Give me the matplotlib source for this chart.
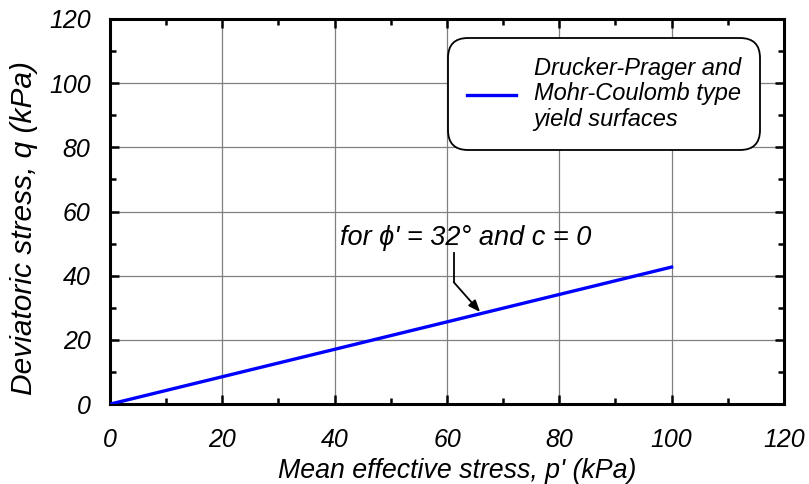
import matplotlib.pyplot as plt
from matplotlib.ticker import MultipleLocator

plt.rcParams['font.family'] = ['Liberation Sans', 'DejaVu Sans']
plt.rcParams['font.style'] = 'italic'

# yield surface line
p_vals = [0, 100]
q_vals = [0, 42.7]

x_ticks = [0, 20, 40, 60, 80, 100, 120]
y_ticks = [0, 20, 40, 60, 80, 100, 120]

fig = plt.figure(figsize=(8.09, 4.84), dpi=100)
ax = fig.add_axes([0.136, 0.165, 0.833, 0.796])

ax.plot(p_vals, q_vals, color="#0000ff", lw=2.4,
        label="Drucker-Prager and\nMohr-Coulomb type\nyield surfaces", zorder=3)

ax.set_xlim(0, 120)
ax.set_ylim(0, 120)
ax.set_xticks(x_ticks)
ax.set_yticks(y_ticks)
ax.xaxis.set_minor_locator(MultipleLocator(10))
ax.yaxis.set_minor_locator(MultipleLocator(10))
ax.tick_params(which="both", direction="in", top=True, right=True, width=1.8,
               labelsize=18)
ax.tick_params(axis="x", which="major", pad=17)
ax.tick_params(axis="y", which="major", pad=14)
ax.tick_params(which="major", length=6.5)
ax.tick_params(which="minor", length=4.5)
for lab in ax.get_xticklabels() + ax.get_yticklabels():
    lab.set_style("italic")
for s in ax.spines.values():
    s.set_linewidth(2.2)
ax.grid(True, which="major", color="#808080", lw=0.9)

ax.set_xlabel("Mean effective stress, p' (kPa)", fontsize=19.3, style="italic")
ax.set_ylabel("Deviatoric stress, q (kPa)", fontsize=21.5, style="italic")
ax.xaxis.set_label_coords(0.515, -0.14)
ax.yaxis.set_label_coords(-0.107, 0.457)

# annotation
ax.text(41, 51.7, "for \u03d5' = 32\u00b0 and c = 0", fontsize=19.5, style="italic",
        va="center", ha="left")
ax.plot([61.2, 61.2], [47.1, 38.0], color="black", lw=1.3)
ax.annotate("", xy=(65.9, 28.7), xytext=(61.2, 38.0),
            arrowprops=dict(arrowstyle="-|>,head_length=0.7,head_width=0.28",
                            color="black", lw=1.3, shrinkA=0, shrinkB=0))

leg = ax.legend(loc="upper left", bbox_to_anchor=(0.501, 0.951), fontsize=17,
                frameon=True, handlelength=2.1, handletextpad=0.75,
                borderpad=0.8, labelspacing=0.2, borderaxespad=0)
frame = leg.get_frame()
frame.set_boxstyle("round,pad=0,rounding_size=0.85")
frame.set_edgecolor("black")
frame.set_linewidth(1.3)
frame.set_alpha(1)
for t in leg.get_texts():
    t.set_style("italic")
    t.set_linespacing(1.15)

fig.savefig("out.png", dpi=100)
